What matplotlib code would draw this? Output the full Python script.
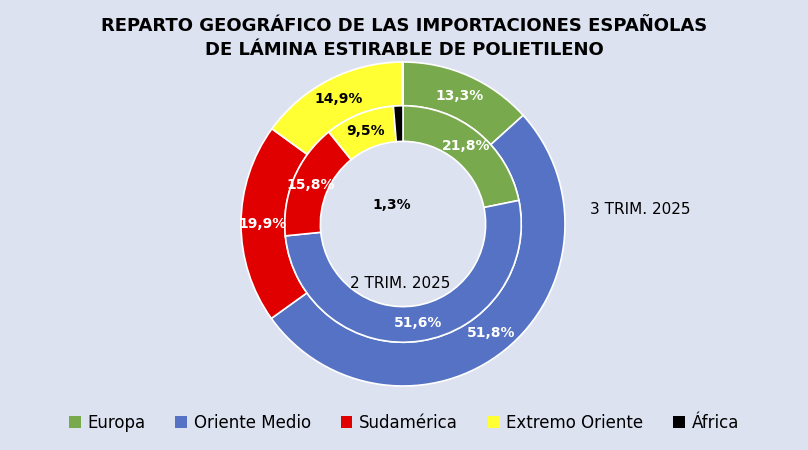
import numpy as np
import matplotlib.pyplot as plt
from matplotlib.patches import Patch

categories = ["Europa", "Oriente Medio", "Sudamérica", "Extremo Oriente", "África"]
outer_vals = [13.3, 51.8, 19.9, 14.9, 0.1]   # 3 TRIM. 2025
inner_vals = [21.8, 51.6, 15.8, 9.5, 1.3]    # 2 TRIM. 2025
colors = ["#79a94d", "#5572c4", "#e00000", "#ffff33", "#000000"]
text_colors = ["white", "white", "white", "black", "black"]
bg = "#dde2f1"

fig = plt.figure(figsize=(8.08, 4.5), dpi=100, facecolor=bg)
R_px, cy = 162, 224
ax = fig.add_axes([(403 - R_px) / 808, 1 - (cy + R_px) / 450, 2 * R_px / 808, 2 * R_px / 450])
ax.set_facecolor(bg)

R_out, R_mid, R_in = 1.0, 0.73, 0.51
wedge = dict(edgecolor="white", linewidth=1.2)
ax.pie(outer_vals, radius=R_out, colors=colors, startangle=90, counterclock=False,
       wedgeprops=dict(width=R_out - R_mid, **wedge))
ax.pie(inner_vals, radius=R_mid, colors=colors, startangle=90, counterclock=False,
       wedgeprops=dict(width=R_mid - R_in, **wedge))
ax.set_xlim(-1, 1)
ax.set_ylim(-1, 1)
ax.set_aspect("equal")

def put_labels(vals, r, inner):
    start = 90
    for v, tc in zip(vals, text_colors):
        mid = np.deg2rad(start - v / 100 * 360 / 2)
        start -= v / 100 * 360
        if v < 1:
            continue
        txt = f"{v:.1f}%".replace(".", ",")
        if v < 2 and inner:
            ax.text(-0.07, 0.12, txt, ha="center", va="center",
                    fontsize=10, fontweight="bold", color="black")
            continue
        ax.text(r * np.cos(mid), r * np.sin(mid), txt,
                ha="center", va="center", fontsize=10, fontweight="bold", color=tc)

put_labels(outer_vals, (R_out + R_mid) / 2, False)
put_labels(inner_vals, (R_mid + R_in) / 2, True)

fig.text(640 / 808, 1 - 210 / 450, "3 TRIM. 2025", ha="center", va="center", fontsize=11)
fig.text(400 / 808, 1 - 283 / 450, "2 TRIM. 2025", ha="center", va="center", fontsize=11)

fig.text(0.5, 1 - 38 / 450, "REPARTO GEOGRÁFICO DE LAS IMPORTACIONES ESPAÑOLAS\nDE LÁMINA ESTIRABLE DE POLIETILENO",
         ha="center", va="center", fontsize=13, fontweight="bold", linespacing=1.45)

handles = [Patch(facecolor=c, label=l) for c, l in zip(colors, categories)]
fig.legend(handles=handles, loc="center", bbox_to_anchor=(0.5, 1 - 423 / 450), ncol=5,
           frameon=False, fontsize=12, handlelength=0.7, handleheight=0.7,
           columnspacing=1.8, handletextpad=0.4)

fig.savefig("out.png", dpi=100, facecolor=bg)
